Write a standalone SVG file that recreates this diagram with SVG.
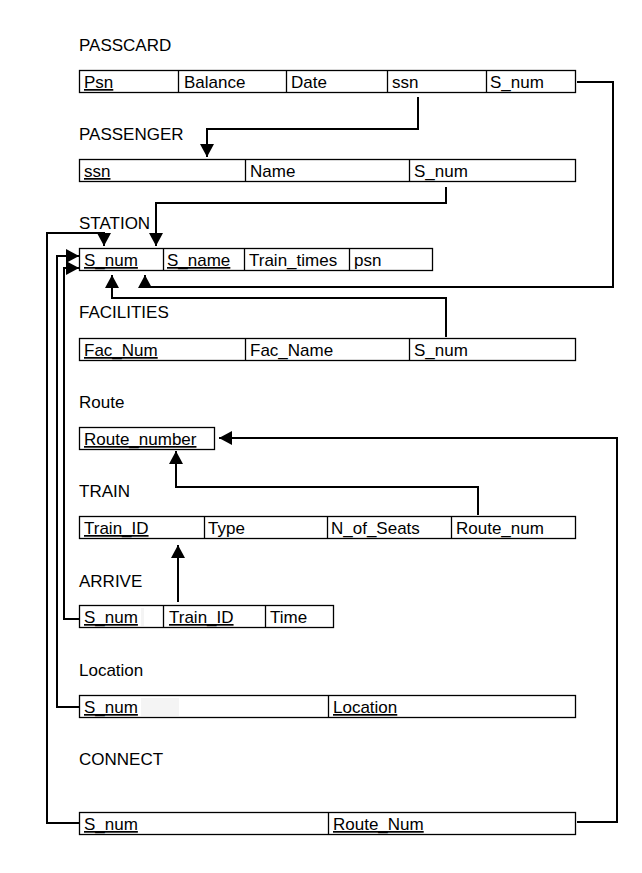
<svg xmlns="http://www.w3.org/2000/svg" width="642" height="873" viewBox="0 0 642 873">
<defs>
<style>
.t{font-family:"Liberation Sans",Arial,sans-serif;font-size:17px;fill:#000}
.f{font-family:"Liberation Sans",Arial,sans-serif;font-size:17px;fill:#000}
.u{text-decoration:underline}
.b{fill:#fff;stroke:#000;stroke-width:1.3}
.d{stroke:#000;stroke-width:1.3}
.c{fill:none;stroke:#000;stroke-width:2}
</style>
<marker id="ah" viewBox="0 0 13 14" refX="13" refY="7" markerWidth="13" markerHeight="14" markerUnits="userSpaceOnUse" orient="auto">
<path d="M0,0 L13,7 L0,14 z" fill="#000"/>
</marker>
</defs>
<rect width="642" height="873" fill="#fff"/>

<g id="passcard">
<text class="t" x="79" y="51">PASSCARD</text>
<rect class="b" x="79.5" y="70.5" width="496" height="22"/>
<line class="d" x1="178.5" y1="70" x2="178.5" y2="93"/>
<line class="d" x1="286.5" y1="70" x2="286.5" y2="93"/>
<line class="d" x1="387.5" y1="70" x2="387.5" y2="93"/>
<line class="d" x1="486.5" y1="70" x2="486.5" y2="93"/>
<text class="f u" x="84" y="88">Psn</text>
<text class="f" x="184" y="88">Balance</text>
<text class="f" x="291" y="88">Date</text>
<text class="f" x="392" y="88">ssn</text>
<text class="f" x="490" y="88">S_num</text>
</g>

<g id="passenger">
<text class="t" x="79" y="140">PASSENGER</text>
<rect class="b" x="79.5" y="159.5" width="496" height="22"/>
<line class="d" x1="245.5" y1="159" x2="245.5" y2="182"/>
<line class="d" x1="409.5" y1="159" x2="409.5" y2="182"/>
<text class="f u" x="84" y="177">ssn</text>
<text class="f" x="250" y="177">Name</text>
<text class="f" x="414" y="177">S_num</text>
</g>

<g id="station">
<text class="t" x="79" y="229">STATION</text>
<rect class="b" x="79.5" y="248.5" width="353" height="22"/>
<line class="d" x1="163.5" y1="248" x2="163.5" y2="271"/>
<line class="d" x1="244.5" y1="248" x2="244.5" y2="271"/>
<line class="d" x1="349.5" y1="248" x2="349.5" y2="271"/>
<text class="f u" x="84" y="266">S_num</text>
<text class="f u" x="167" y="266">S_name</text>
<text class="f" x="249" y="266">Train_times</text>
<text class="f" x="354" y="266">psn</text>
</g>

<g id="facilities">
<text class="t" x="79" y="318">FACILITIES</text>
<rect class="b" x="79.5" y="338.5" width="496" height="22"/>
<line class="d" x1="245.5" y1="338" x2="245.5" y2="361"/>
<line class="d" x1="409.5" y1="338" x2="409.5" y2="361"/>
<text class="f u" x="84" y="356">Fac_Num</text>
<text class="f" x="250" y="356">Fac_Name</text>
<text class="f" x="414" y="356">S_num</text>
</g>

<g id="route">
<text class="t" x="79" y="408">Route</text>
<rect class="b" x="79.5" y="427.5" width="135" height="22"/>
<text class="f u" x="84" y="445">Route_number</text>
</g>

<g id="train">
<text class="t" x="79" y="497">TRAIN</text>
<rect class="b" x="79.5" y="516.5" width="496" height="22"/>
<line class="d" x1="204.5" y1="516" x2="204.5" y2="539"/>
<line class="d" x1="327.5" y1="516" x2="327.5" y2="539"/>
<line class="d" x1="451.5" y1="516" x2="451.5" y2="539"/>
<text class="f u" x="84" y="534">Train_ID</text>
<text class="f" x="208" y="534">Type</text>
<text class="f" x="331" y="534">N_of_Seats</text>
<text class="f" x="456" y="534">Route_num</text>
</g>

<g id="arrive">
<text class="t" x="79" y="587">ARRIVE</text>
<rect class="b" x="79.5" y="605.5" width="254" height="22"/>
<rect x="141" y="608" width="3" height="18" fill="#f4f4f4"/>
<line class="d" x1="163.5" y1="605" x2="163.5" y2="628"/>
<line class="d" x1="265.5" y1="605" x2="265.5" y2="628"/>
<text class="f u" x="84" y="623">S_num</text>
<text class="f u" x="169" y="623">Train_ID</text>
<text class="f" x="270" y="623">Time</text>
</g>

<g id="location">
<text class="t" x="79" y="676">Location</text>
<rect class="b" x="79.5" y="695.5" width="496" height="22"/>
<rect x="141" y="698" width="38" height="18" fill="#f4f4f4"/>
<line class="d" x1="328.5" y1="695" x2="328.5" y2="718"/>
<text class="f u" x="84" y="713">S_num</text>
<text class="f u" x="333" y="713">Location</text>
</g>

<g id="connect">
<text class="t" x="79" y="765">CONNECT</text>
<rect class="b" x="79.5" y="812.5" width="496" height="22"/>
<line class="d" x1="328.5" y1="812" x2="328.5" y2="835"/>
<text class="f u" x="84" y="830">S_num</text>
<text class="f u" x="333" y="830">Route_Num</text>
</g>

<g id="connectors">
<path class="c" d="M418,97 V129 H207 V157" marker-end="url(#ah)"/>
<path class="c" d="M446,187 V203 H156 V246" marker-end="url(#ah)"/>
<path class="c" d="M577,82 H613 V287 H145 V275" marker-end="url(#ah)"/>
<path class="c" d="M446,337 V298 H112 V275" marker-end="url(#ah)"/>
<path class="c" d="M79,823 H47 V233 H104 V246" marker-end="url(#ah)"/>
<path class="c" d="M79,707 H57 V256 H79" marker-end="url(#ah)"/>
<path class="c" d="M79,619 H64 V268 H79" marker-end="url(#ah)"/>
<path class="c" d="M577,822 H617 V438 H219" marker-end="url(#ah)"/>
<path class="c" d="M478,515 V487 H176 V451" marker-end="url(#ah)"/>
<path class="c" d="M178,602 V545" marker-end="url(#ah)"/>
</g>
</svg>
